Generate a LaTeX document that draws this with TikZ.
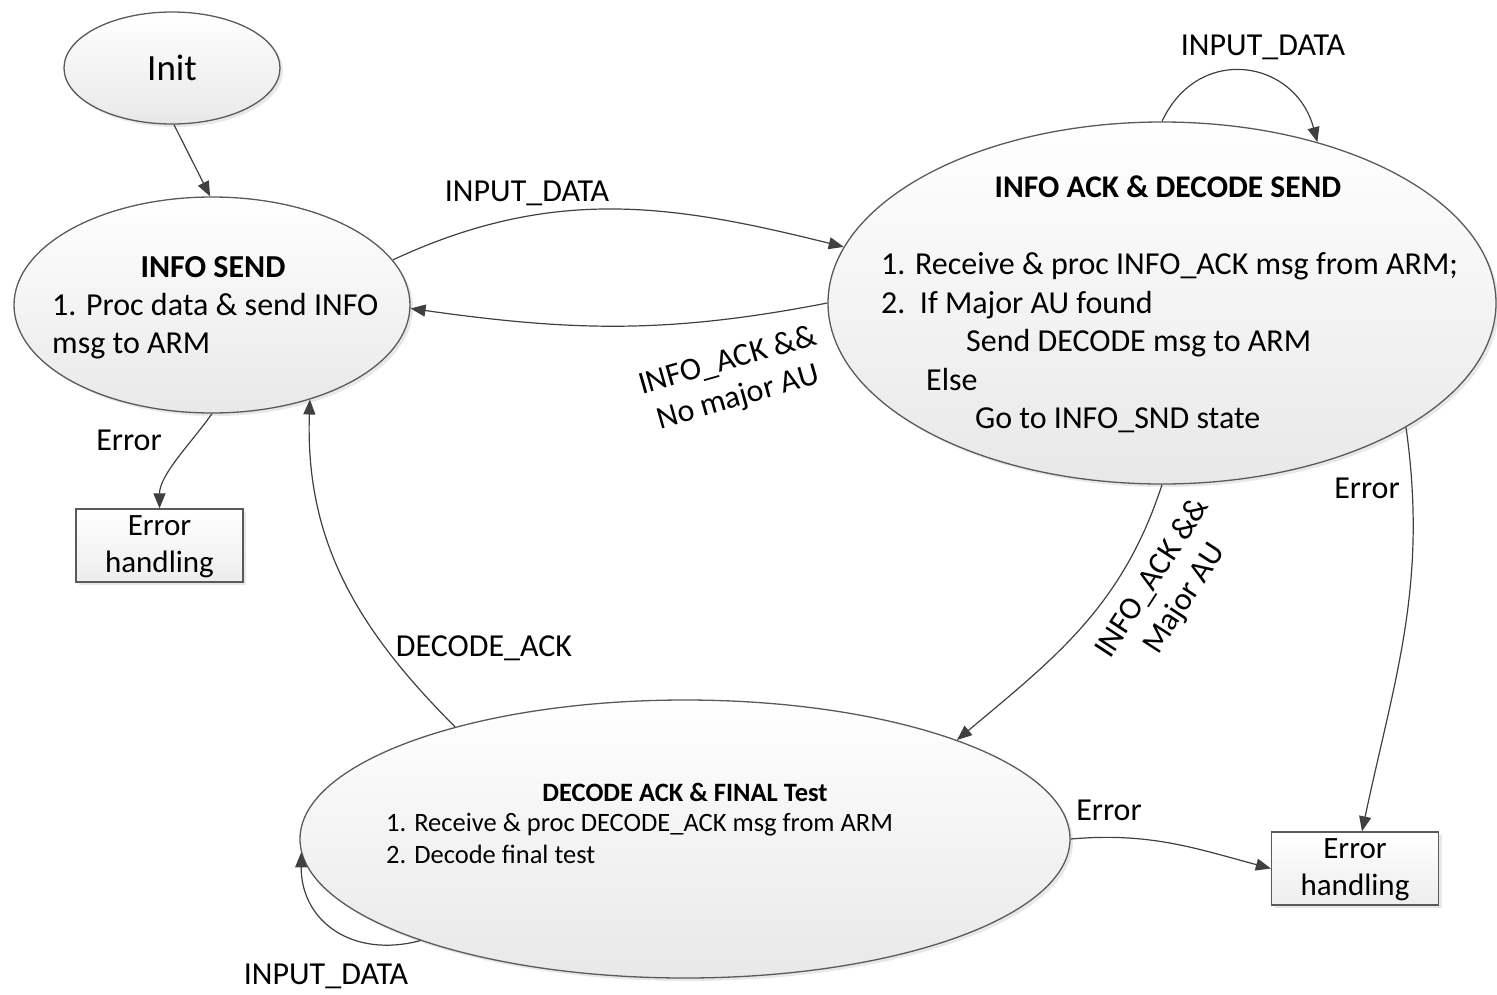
\documentclass[tikz,border=0pt]{standalone}
\usepackage{fontspec}
\setmainfont{Carlito}
\usetikzlibrary{arrows.meta,shapes.geometric,shadows}

\definecolor{edgegray}{HTML}{404040}
\definecolor{rimgray}{HTML}{5A5A5A}

\tikzset{
  state/.style={ellipse, draw=rimgray, line width=1.3pt, inner sep=0pt,
    top color=white, bottom color=black!9,
    drop shadow={opacity=0.18, shadow xshift=3pt, shadow yshift=-3pt}},
  errbox/.style={rectangle, draw=rimgray, line width=1.3pt, inner sep=0pt,
    minimum width=167pt, minimum height=73pt,
    top color=white, bottom color=black!7,
    drop shadow={opacity=0.18, shadow xshift=3pt, shadow yshift=-3pt}},
  trans/.style={draw=edgegray, line width=1.2pt,
    -{Triangle[length=15pt,width=12pt]}},
  lbl/.style={font=\fontsize{32}{38}\selectfont, inner sep=0pt, text=black},
  body/.style={font=\fontsize{32}{38}\selectfont, inner sep=0pt, anchor=west,
    text height=0.7em, text depth=0.2em},
  small/.style={font=\fontsize{26.5}{31}\selectfont, inner sep=0pt, anchor=west,
    text height=0.7em, text depth=0.2em},
}

\begin{document}
\begin{tikzpicture}[x=1pt,y=1pt]
\useasboundingbox (0,0) rectangle (1497,-994);

% states
\node[state, minimum width=216pt, minimum height=112pt] (init) at (172,-68) {};
\node[state, minimum width=396pt, minimum height=216pt] (infosend) at (212,-305) {};
\node[state, minimum width=668pt, minimum height=362pt] (ackdec) at (1162,-303) {};
\node[state, minimum width=770pt, minimum height=278pt] (decack) at (685,-839) {};

% error handlers
\node[errbox] (err1) at (159.5,-545.5) {};
\node[errbox] (err2) at (1355,-868.5) {};

% state texts
\node[lbl, font=\fontsize{37}{44}\selectfont] (tinit) at (172,-68) {Init};

\node[lbl, font=\fontsize{32}{38}\selectfont\bfseries] (tis) at (213,-267) {INFO SEND};
\node[body] (tis1) at (52,-313) {1. Proc data \& send INFO};
\node[body] (tis2) at (52,-351) {msg to ARM};

\node[lbl, font=\fontsize{31.5}{38}\selectfont\bfseries] (tad) at (1168,-187) {INFO ACK \& DECODE SEND};
\node[body] (tad1) at (881,-272) {1. Receive \& proc INFO\_ACK msg from ARM;};
\node[body] (tad2) at (881,-311) {2.\ \ If Major AU found};
\node[body] (tad3) at (966,-349) {Send DECODE msg to ARM};
\node[body] (tad4) at (926,-388) {Else};
\node[body] (tad5) at (975,-426) {Go to INFO\_SND state};

\node[lbl, font=\fontsize{26.5}{31}\selectfont\bfseries] (tda) at (685,-792) {DECODE ACK \& FINAL Test};
\node[small] (tda1) at (386,-829) {1. Receive \& proc DECODE\_ACK msg from ARM};
\node[small] (tda2) at (386,-861) {2. Decode final test};

\node[lbl, align=center, font=\fontsize{31}{37}\selectfont] (te1) at (159.5,-547) {Error\\handling};
\node[lbl, align=center, font=\fontsize{31}{37}\selectfont] (te2) at (1355,-870) {Error\\handling};

% transitions
\draw[trans] (init.-88) -- (infosend.91);
\draw[trans] (infosend.14) to[out=25,in=166] (ackdec.170.4);
\draw[trans] (ackdec.180) to[out=191,in=-8] (infosend.-1);
\draw[trans] (infosend.-90) to[out=-125,in=90,looseness=0.8] (err1.north);
\draw[trans] (decack.154) to[out=135,in=-92] (infosend.-44);
\draw[trans] (ackdec.-90) to[out=-108,in=40] (decack.20);
\draw[trans] (ackdec.-27.6) to[out=-82,in=78] ([xshift=7pt]err2.north);
\draw[trans] (decack.0) to[out=5,in=165] (err2.west);
\draw[trans] (ackdec.90) to[out=65,in=105,looseness=1.4] (ackdec.46.5);
\draw[trans] (decack.201) to[out=195,in=-90,looseness=1.2] (decack.182);

% transition labels
\node[lbl] (l1) at (1263,-47) {INPUT\_DATA};
\node[lbl] (l2) at (527,-193) {INPUT\_DATA};
\node[lbl, align=center, rotate=16] (l3) at (733,-380) {INFO\_ACK \&\&\\No major AU};
\node[lbl] (l4) at (129,-440) {Error};
\node[lbl] (l5) at (484,-648) {DECODE\_ACK};
\node[lbl, align=center, rotate=57] (l6) at (1169,-589) {INFO\_ACK \&\&\\Major AU};
\node[lbl] (l7) at (1367,-488) {Error};
\node[lbl] (l8) at (1109,-810) {Error};
\node[lbl] (l9) at (326,-976) {INPUT\_DATA};
\end{tikzpicture}
\end{document}
